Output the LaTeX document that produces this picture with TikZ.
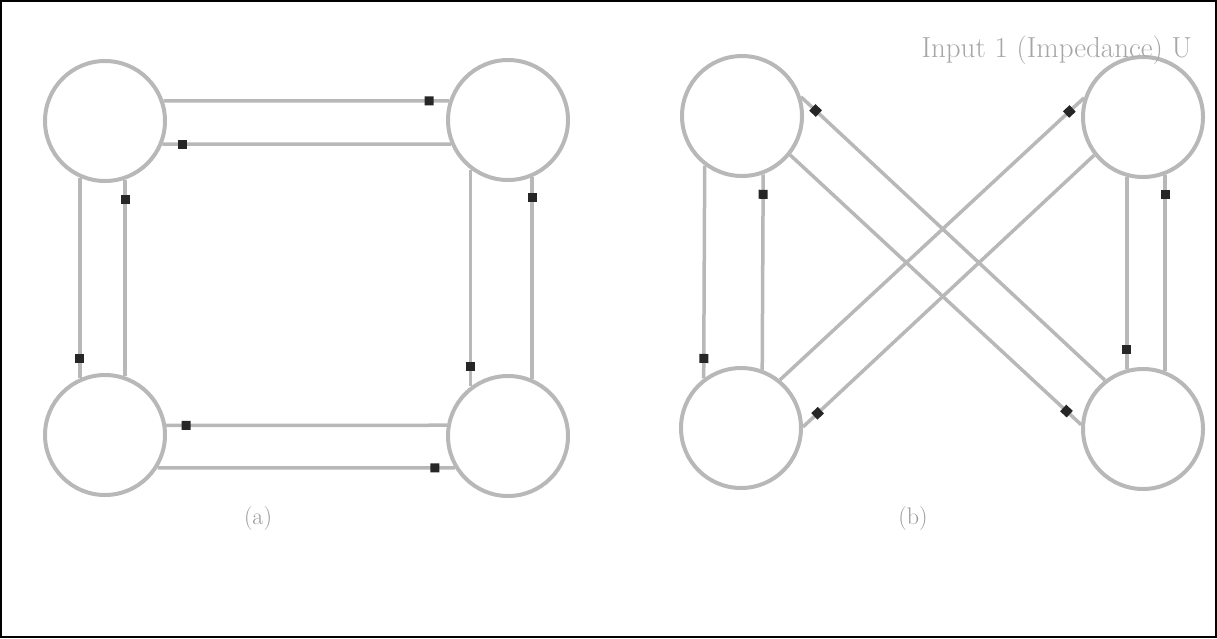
\documentclass[tikz,border=0pt]{standalone}
\usepackage{tikz}
\usetikzlibrary{decorations.markings}

\begin{document}
\begin{tikzpicture}[x=1pt,y=-1pt,
  host/.style={circle,draw=black!28,line width=4pt,minimum size=120pt,inner sep=0pt},
  link/.style={draw=black!28,line width=3.5pt},
  mstart/.style={postaction={decorate},decoration={markings,
    mark=at position 20pt with {\fill[black!85] (-4.5pt,-4.5pt) rectangle (4.5pt,4.5pt);}}},
  mend/.style={postaction={decorate},decoration={markings,
    mark=at position -20pt with {\fill[black!85] (-4.5pt,-4.5pt) rectangle (4.5pt,4.5pt);}}},
  tag/.style={text=black!40,font=\fontsize{24}{28}\selectfont}]
  \useasboundingbox (0,0) rectangle (1217,638);
  \draw[line width=1.5pt] (1,1) rectangle (1216,637);

  % (a) ring
  \node[host] (atl) at (105,121) {};
  \node[host] (atr) at (508,120) {};
  \node[host] (abl) at (105,435) {};
  \node[host] (abr) at (508,436) {};
  \draw[link,mend]   (atl.19)   -- (atr.162);
  \draw[link,mstart] (atl.-22)  -- (atr.203);
  \draw[link,mend]   (atl.-114) -- (abl.114);
  \draw[link,mstart] (atl.-71)  -- (abl.71);
  \draw[link,mend]   (atr.-127) -- (abr.127);
  \draw[link,mstart] (atr.-67)  -- (abr.67);
  \draw[link,mstart] (abl.9)    -- (abr.170);
  \draw[link,mend]   (abl.-32)  -- (abr.211);
  \node[tag] (capa) at (258,518) {(a)};

  % (b) crossed
  \node[host] (btl) at (742,116) {};
  \node[host] (btr) at (1143,117) {};
  \node[host] (bbl) at (741,428) {};
  \node[host] (bbr) at (1143,429) {};
  \draw[link,mend]   (btl.-127) -- (bbl.127);
  \draw[link,mstart] (btl.-70)  -- (bbl.70);
  \draw[link,mend]   (btr.-105) -- (bbr.105);
  \draw[link,mstart] (btr.-69)  -- (bbr.69);
  \draw[link,mstart] (btl.18)   -- (bbr.128);
  \draw[link,mend]   (btl.-39)  -- (bbr.176);
  \draw[link,mend]   (bbl.51)   -- (btr.162);
  \draw[link,mstart] (bbl.1)    -- (btr.218);
  \node[tag] (capb) at (913,518) {(b)};

  \node[tag,text=black!35,font=\fontsize{29}{34}\selectfont,anchor=base west] (note) at (918,57) {Input 1 (Impedance) U};
\end{tikzpicture}
\end{document}
